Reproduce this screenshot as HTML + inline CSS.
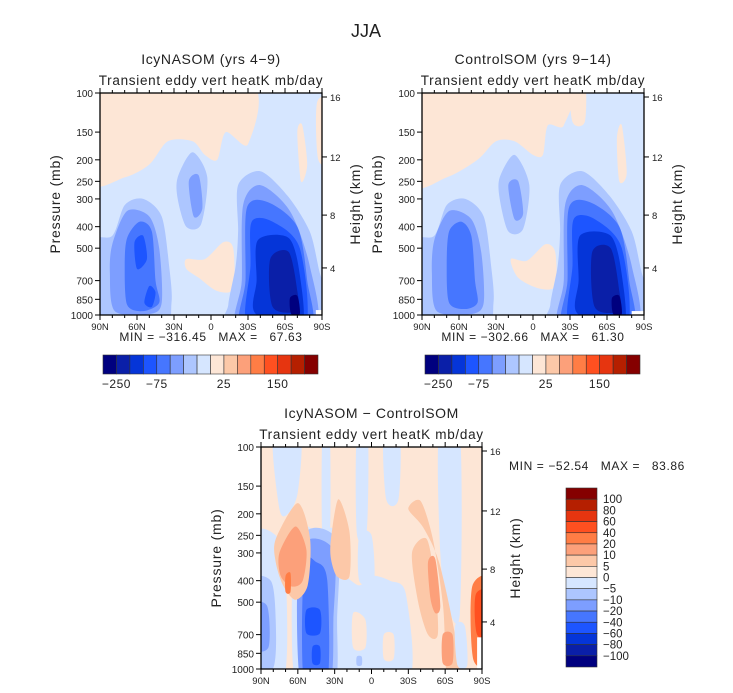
<!DOCTYPE html>
<html><head><meta charset="utf-8"><style>
body{margin:0;background:#fff;}
svg{display:block;font-family:"Liberation Sans",sans-serif;fill:#222;}
text{white-space:pre;}
</style></head><body>
<svg id="fig" width="733" height="693" viewBox="0 0 733 693" xmlns="http://www.w3.org/2000/svg">
<text x="366" y="37" text-anchor="middle" font-size="18">JJA</text>
<g id="p1"></g>
<g id="p2"></g>
<g id="p3"></g>
</svg>
<script>
// ---- data ----
const pressureTicks=[100,150,200,250,300,400,500,700,850,1000];
const latTicks=[90,60,30,0,-30,-60,-90];
const latTickLabels=["90N","60N","30N","0","30S","60S","90S"];
const heightTicks=[16,12,8,4];
const heightFrac=[0.018,0.288,0.55,0.788];
const levelColors=["#00007f","#0a1fa8","#0535d8","#1d55ff","#4676ff","#7d9eff","#adc6ff","#d6e6ff","#fde6d6","#fcc8a8","#fca07a","#ff7d45","#ff5020","#e63510","#b51f00","#850000"];
const cbLabels1=["-250","-75","25","150"];
const cbLabelIdx1=[1,4,9,13];
const diffLevels=["100","80","60","40","20","10","5","0","-5","-10","-20","-40","-60","-80","-100"];
// shapes: [level, [lat,p,...]]
const shapes1=[
[8,[90,100,-30,100,-30,170,-12,150,-5,200,5,190,15,165,35,165,50,210,70,240,90,250]],
[8,[-70,150,-74,140,-78,210,-73,250]],
[8,[-86,110,-90,110,-90,200,-87,200]],
[8,[20,560,5,560,-10,470,-18,500,-18,760,-5,780,10,680,20,620]],
[6,[90,480,80,440,70,320,55,300,40,360,34,600,32,880,40,1000,90,1000]],
[5,[80,480,68,340,50,360,42,500,40,880,50,990,78,960,82,650]],
[4,[68,450,58,380,48,420,45,700,42,880,55,960,68,900,70,600]],
[3,[62,470,55,440,52,560,60,620]],
[3,[50,740,45,790,48,920,54,880]],
[6,[27,240,15,185,3,240,8,390,20,400,27,300]],
[5,[18,250,10,235,7,330,14,360]],
[6,[-22,420,-22,260,-40,225,-62,290,-80,420,-88,640,-90,1000,-15,1000,-14,900,-20,600]],
[5,[-26,320,-40,260,-64,340,-80,600,-84,1000,-22,1000,-25,700]],
[4,[-29,330,-46,310,-70,400,-78,700,-80,1000,-25,1000,-28,700]],
[3,[-33,380,-50,380,-72,500,-76,1000,-30,1000,-32,600]],
[2,[-38,460,-63,450,-72,660,-73,1000,-36,985,-37,700]],
[1,[-48,560,-63,520,-70,780,-70,960,-50,920]],
[0,[-64,840,-70,820,-72,990,-65,990]]
];
const shapes2=[
[8,[90,100,-25,100,-25,140,-12,140,-8,190,0,190,15,165,30,165,45,200,70,240,90,255]],
[8,[-30,100,-42,100,-42,135,-32,135]],
[8,[-68,160,-72,140,-76,230,-70,250]],
[8,[18,560,5,570,-10,480,-18,520,-18,740,-5,760,12,680]],
[6,[90,480,80,440,70,320,55,300,40,360,34,600,32,880,40,1000,90,1000]],
[5,[80,460,68,340,50,370,42,520,40,880,50,990,78,960,82,650]],
[4,[68,420,58,380,50,440,47,700,45,880,55,940,68,880,70,600]],
[6,[27,240,15,190,3,260,8,410,20,420,27,300]],
[5,[20,260,12,250,8,350,15,370]],
[6,[-22,420,-22,260,-40,225,-62,290,-80,420,-88,640,-90,1000,-15,1000,-14,900,-20,600]],
[5,[-26,320,-40,260,-64,340,-80,600,-84,1000,-22,1000,-25,700]],
[4,[-29,330,-46,310,-70,400,-78,700,-80,1000,-25,1000,-28,700]],
[3,[-33,370,-50,370,-72,500,-76,1000,-30,1000,-32,600]],
[2,[-38,440,-63,440,-72,660,-73,1000,-36,985,-37,700]],
[1,[-48,520,-63,500,-70,780,-70,960,-50,920]],
[0,[-64,840,-70,820,-72,990,-65,990]]
];
const shapes3=[
[7,[80,100,58,100,60,160,68,200,75,190]],
[7,[40,100,34,100,34,262,40,262]],
[7,[12,100,3,100,4,244,12,244]],
[7,[-10,100,-23,100,-22,172,-12,172]],
[7,[-55,100,-72,100,-72,560,-62,520,-56,300]],
[7,[28,400,10,420,0,380,-15,400,-28,460,-30,1000,28,1000]],
[7,[10,250,0,250,-2,400,10,400]],
[8,[15,560,5,600,5,800,15,800]],
[8,[-10,700,-18,700,-18,900,-10,900]],
[6,[12,880,8,880,8,960,12,960]],
[7,[90,262,75,262,69,500,72,1000,90,1000]],
[7,[62,250,44,240,26,262,26,1000,62,1000]],
[6,[90,420,82,400,78,600,80,990,90,1000]],
[5,[90,520,85,520,84,800,90,800]],
[6,[57,262,28,262,28,600,30,1000,57,1000]],
[5,[58,290,31,290,31,600,34,1000,58,1000]],
[4,[55,345,45,330,36,400,36,1000,55,1000]],
[3,[53,542,42,542,42,690,53,690]],
[3,[48,793,42,793,42,944,48,944]],
[9,[78,260,60,179,50,260,52,420,62,488,72,420,78,330]],
[10,[75,300,62,228,53,290,56,400,65,425,74,380]],
[11,[70,380,66,370,66,450,70,450]],
[9,[33,260,27,172,18,240,18,383,28,383,33,320]],
[9,[-30,190,-40,175,-50,260,-58,500,-60,800,-62,1000,-72,1000,-68,700,-55,330,-42,230]],
[9,[-33,300,-45,260,-52,420,-54,700,-46,700,-38,500]],
[10,[-46,330,-52,320,-56,520,-52,560,-48,480]],
[10,[-58,700,-66,700,-66,940,-58,940]],
[7,[-68,640,-76,640,-78,960,-70,960]],
[11,[-82,425,-95,400,-95,910,-83,910]],
[12,[-85,460,-95,450,-95,700,-86,700]]
];
const minmax=["MIN = \u2212316.45   MAX =   67.63","MIN = \u2212302.66   MAX =   61.30","MIN = \u221252.54   MAX =   83.86"];

const NS="http://www.w3.org/2000/svg";
function el(tag,attrs,parent,txt){const e=document.createElementNS(NS,tag);for(const k in attrs)e.setAttribute(k,attrs[k]);if(txt!==undefined)e.textContent=txt;parent.appendChild(e);return e;}
function smooth(pts){let n=pts.length,d="";const f=7;for(let i=0;i<n;i++){const p0=pts[(i-1+n)%n],p1=pts[i],p2=pts[(i+1)%n],p3=pts[(i+2)%n];if(i===0)d+="M"+p1[0].toFixed(1)+","+p1[1].toFixed(1);const c1=[p1[0]+(p2[0]-p0[0])/f,p1[1]+(p2[1]-p0[1])/f],c2=[p2[0]-(p3[0]-p1[0])/f,p2[1]-(p3[1]-p1[1])/f];d+="C"+c1.map(v=>v.toFixed(1))+" "+c2.map(v=>v.toFixed(1))+" "+p2.map(v=>v.toFixed(1));}return d+"Z";}
function ext(lat,p){return [lat>=90?99:(lat<=-90?-99:lat), p>=1000?1150:(p<=100?88:p)];}

function panel(g,ox,oy,w,h,shapes,bgLevel,title,whiteBox){
  const x=lat=>ox+(90-lat)/180*w;
  const y=p=>oy+Math.log10(p/100)*h;
  const clipId="c"+ox;
  const cp=el("clipPath",{id:clipId},g);el("rect",{x:ox,y:oy,width:w,height:h},cp);
  const bg=el("rect",{x:ox,y:oy,width:w,height:h,fill:levelColors[bgLevel]},g);
  
  
  const cg=el("g",{"clip-path":"url(#"+clipId+")"},g);
  shapes.forEach(s=>{const pts=[];for(let i=0;i<s[1].length;i+=2){const e=ext(s[1][i],s[1][i+1]);pts.push([x(e[0]),y(e[1])]);}
    const path=el("path",{d:smooth(pts),fill:levelColors[s[0]]},cg);
    
    });
  if(whiteBox){const wb=el("rect",{x:x(whiteBox[0]),y:y(whiteBox[1]),width:x(-90)-x(whiteBox[0]),height:oy+h-y(whiteBox[1]),fill:"#fff"},cg);
    
    }
  el("rect",{x:ox,y:oy,width:w,height:h,fill:"none",stroke:"#000","stroke-width":1.3},g);
  pressureTicks.forEach(p=>{el("line",{x1:ox-5,x2:ox,y1:y(p),y2:y(p),stroke:"#000"},g);
    const t=el("text",{x:ox-7,y:y(p)+4,"text-anchor":"end","font-size":10},g,p);
    
    });
  for(let l=90;l>=-90;l-=10){const mj=l%30===0;el("line",{x1:x(l),x2:x(l),y1:oy+h,y2:oy+h+(mj?5:3),stroke:"#000"},g);el("line",{x1:x(l),x2:x(l),y1:oy,y2:oy-(mj?5:3),stroke:"#000"},g);}
  latTicks.forEach((l,i)=>{const t=el("text",{x:x(l),y:oy+h+15,"text-anchor":"middle","font-size":9.5},g,latTickLabels[i]);
    
    });
  heightTicks.forEach((z,i)=>{const yy=oy+heightFrac[i]*h;el("line",{x1:ox+w,x2:ox+w+5,y1:yy,y2:yy,stroke:"#000"},g);
    const t=el("text",{x:ox+w+8,y:yy+4,"font-size":9.5},g,z);
    
    });
  const yl=el("text",{transform:`translate(${ox-40},${oy+h/2}) rotate(-90)`,"text-anchor":"middle","font-size":14,"letter-spacing":0.8},g,"Pressure (mb)");
  
  
  const yr=el("text",{transform:`translate(${ox+w+38},${oy+h/2}) rotate(-90)`,"text-anchor":"middle","font-size":14,"letter-spacing":0.8},g,"Height (km)");
  
  
  const t1=el("text",{x:ox+w/2,y:oy-29,"text-anchor":"middle","font-size":14,"letter-spacing":0.6},g,title);
  
  
  const t2=el("text",{x:ox+w/2,y:oy-8,"text-anchor":"middle","font-size":13.5,"letter-spacing":0.7},g,"Transient eddy vert heatK mb/day");
  
  
}
function hbar(g,ox,oy,w,h){const bw=w/16;
  levelColors.forEach((c,i)=>{const r=el("rect",{x:ox+i*bw,y:oy,width:bw,height:h,fill:c,stroke:"#333","stroke-width":0.6},g);
    
    });
  cbLabels1.forEach((l,i)=>{const t=el("text",{x:ox+cbLabelIdx1[i]*bw,y:oy+h+14,"text-anchor":"middle","font-size":12,"letter-spacing":0.5},g,l.replace("-","\u2212"));
    
    });
}
const p1=document.getElementById("p1"),p2=document.getElementById("p2"),p3=document.getElementById("p3");
panel(p1,100,93,222,222,shapes1,7,"IcyNASOM (yrs 4\u22129)",[-85,950]);
panel(p2,422,93,222,222,shapes2,7,"ControlSOM (yrs 9\u221214)",[-80,960]);
panel(p3,261,447,221,222,shapes3,8,"IcyNASOM \u2212 ControlSOM",[-86,720]);
[[p1,211,341,0],[p2,533,341,1],[p3,597,470,2]].forEach(a=>{const t=el("text",{x:a[1],y:a[2],"text-anchor":"middle","font-size":12,"letter-spacing":0.6},a[0],minmax[a[3]]);
  
  });
const cb1=el("g",{},p1);hbar(cb1,103,355,215,19);
const cb2=el("g",{},p2);hbar(cb2,425,355,215,19);
const cb3=el("g",{},p3);
const bh=179/16;
levelColors.slice().reverse().forEach((c,i)=>{const r=el("rect",{x:566,y:488+i*bh,width:31,height:bh,fill:c,stroke:"#333","stroke-width":0.6},cb3);
  
  });
diffLevels.forEach((l,i)=>{const t=el("text",{x:603,y:488+(i+1)*bh+4,"font-size":11.5},cb3,l.replace("-","\u2212"));
  
  });
</script>
</body></html>
